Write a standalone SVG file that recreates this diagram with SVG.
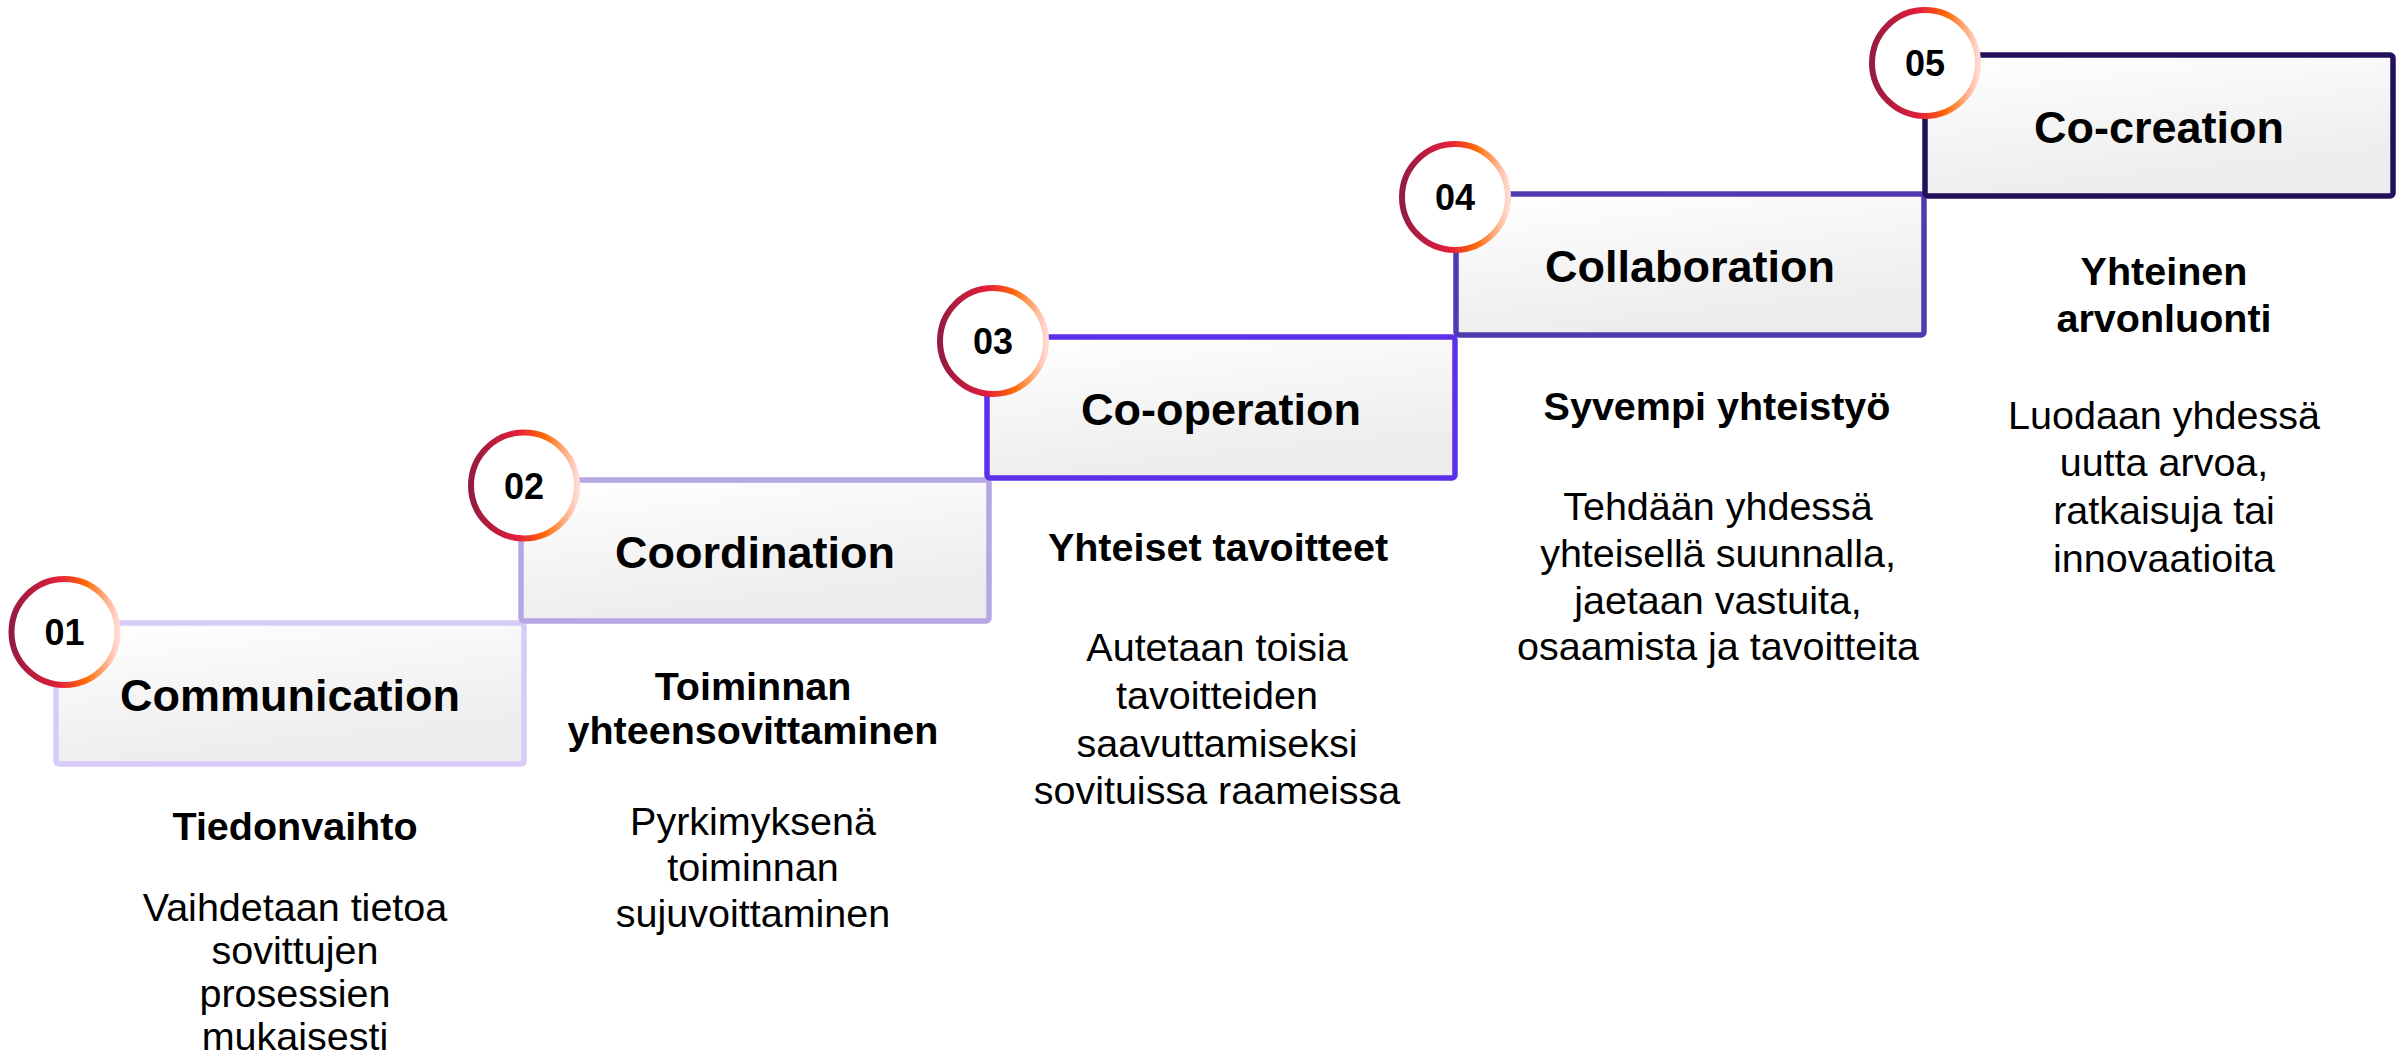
<svg xmlns="http://www.w3.org/2000/svg" width="2407" height="1055" viewBox="0 0 2407 1055">
  <defs>
    <linearGradient id="boxFill" x1="0" y1="0" x2="0.35" y2="1">
      <stop offset="0" stop-color="#FFFFFF"/>
      <stop offset="1" stop-color="#ECECEC"/>
    </linearGradient>
    <linearGradient id="ring" x1="0" y1="0" x2="1" y2="0">
      <stop offset="0" stop-color="#961B40"/>
      <stop offset="0.45" stop-color="#E41F3B"/>
      <stop offset="0.7" stop-color="#FF6A05"/>
      <stop offset="1" stop-color="#FFD9D2"/>
    </linearGradient>
    <style>
      .box { fill: url(#boxFill); stroke-width: 5.5; }
      .ring { fill: #FFFFFF; stroke: url(#ring); stroke-width: 6; }
      .num { font-family: "Liberation Sans", Arial, sans-serif; font-weight: bold; font-size: 36px; fill: #000; text-anchor: middle; }
      .title { font-family: "Liberation Sans", Arial, sans-serif; font-weight: bold; font-size: 45px; fill: #000; text-anchor: middle; }
      .head { font-family: "Liberation Sans", Arial, sans-serif; font-weight: bold; font-size: 39.5px; fill: #000; text-anchor: middle; }
      .desc { font-family: "Liberation Sans", Arial, sans-serif; font-size: 39.5px; fill: #000; text-anchor: middle; }
    </style>
  </defs>
  <rect width="2407" height="1055" fill="#FFFFFF"/>
  <g id="connectors"/>

  <g id="node-01">
    <rect class="box" x="56" y="623" width="468" height="141" rx="3" stroke="#D7CBF8"/>
    <circle class="ring" cx="64.5" cy="632" r="53"/>
    <text class="num" x="64.5" y="645">01</text>
    <text class="title" x="290" y="710.5">Communication</text>
    <text class="head" x="295" y="840">Tiedonvaihto</text>
    <text class="desc" x="295" y="921">Vaihdetaan tietoa</text>
    <text class="desc" x="295" y="964">sovittujen</text>
    <text class="desc" x="295" y="1007">prosessien</text>
    <text class="desc" x="295" y="1050">mukaisesti</text>
  </g>

  <g id="node-02">
    <rect class="box" x="521" y="480" width="468" height="141" rx="3" stroke="#B6A7E3"/>
    <circle class="ring" cx="524" cy="485.5" r="53"/>
    <text class="num" x="524" y="498.5">02</text>
    <text class="title" x="755" y="567.5">Coordination</text>
    <text class="head" x="753" y="699.5">Toiminnan</text>
    <text class="head" x="753" y="744">yhteensovittaminen</text>
    <text class="desc" x="753" y="835">Pyrkimyksenä</text>
    <text class="desc" x="753" y="881">toiminnan</text>
    <text class="desc" x="753" y="927">sujuvoittaminen</text>
  </g>

  <g id="node-03">
    <rect class="box" x="987" y="337" width="468" height="141" rx="3" stroke="#5C30EA"/>
    <circle class="ring" cx="993" cy="341" r="53"/>
    <text class="num" x="993" y="354">03</text>
    <text class="title" x="1221" y="424.5">Co-operation</text>
    <text class="head" x="1218" y="561">Yhteiset tavoitteet</text>
    <text class="desc" x="1217" y="661">Autetaan toisia</text>
    <text class="desc" x="1217" y="709">tavoitteiden</text>
    <text class="desc" x="1217" y="756.5">saavuttamiseksi</text>
    <text class="desc" x="1217" y="803.5">sovituissa raameissa</text>
  </g>

  <g id="node-04">
    <rect class="box" x="1456" y="194" width="468" height="141" rx="3" stroke="#5139AE"/>
    <circle class="ring" cx="1455" cy="197" r="53"/>
    <text class="num" x="1455" y="210">04</text>
    <text class="title" x="1690" y="281.5">Collaboration</text>
    <text class="head" x="1717" y="419.5">Syvempi yhteistyö</text>
    <text class="desc" x="1718" y="519.5">Tehdään yhdessä</text>
    <text class="desc" x="1718" y="566.5">yhteisellä suunnalla,</text>
    <text class="desc" x="1718" y="613.5">jaetaan vastuita,</text>
    <text class="desc" x="1718" y="660">osaamista ja tavoitteita</text>
  </g>

  <g id="node-05">
    <rect class="box" x="1925" y="55" width="468" height="141" rx="3" stroke="#23105A"/>
    <circle class="ring" cx="1925" cy="63" r="53"/>
    <text class="num" x="1925" y="76">05</text>
    <text class="title" x="2159" y="142.5">Co-creation</text>
    <text class="head" x="2164" y="285">Yhteinen</text>
    <text class="head" x="2164" y="331.5">arvonluonti</text>
    <text class="desc" x="2164" y="428.5">Luodaan yhdessä</text>
    <text class="desc" x="2164" y="476">uutta arvoa,</text>
    <text class="desc" x="2164" y="524">ratkaisuja tai</text>
    <text class="desc" x="2164" y="572">innovaatioita</text>
  </g>
</svg>
